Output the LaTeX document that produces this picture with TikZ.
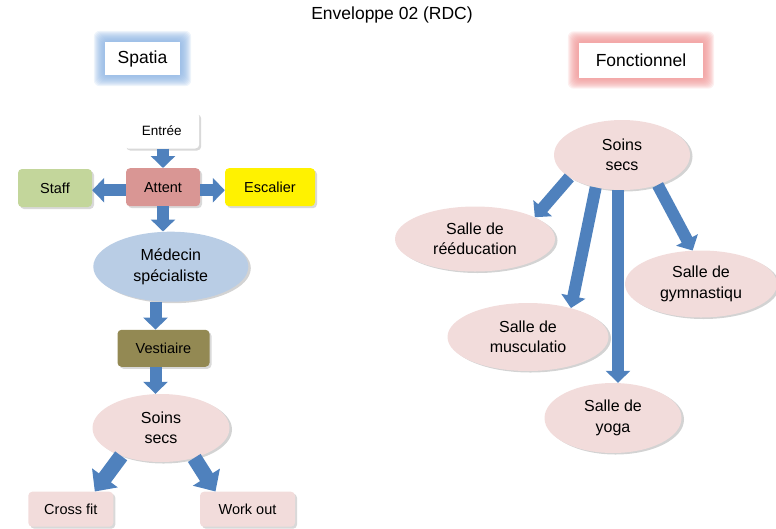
\documentclass[tikz,border=0pt]{standalone}
\usepackage{fontspec}
\setmainfont{Liberation Sans}
\usetikzlibrary{shapes.geometric, arrows.meta, shadows, backgrounds}

\definecolor{pfeil}{RGB}{79,129,189}
\definecolor{rosa}{RGB}{242,220,219}
\definecolor{hellblau}{RGB}{185,205,229}
\definecolor{altrosa}{RGB}{217,150,148}
\definecolor{gruen}{RGB}{195,214,155}
\definecolor{oliv}{RGB}{147,137,83}
\definecolor{glowblau}{RGB}{141,180,227}
\definecolor{glowrot}{RGB}{240,150,150}

\begin{document}
\begin{tikzpicture}[x=1pt, y=-1pt,
			kasten/.style={rectangle, rounded corners=4pt, inner sep=0pt, font=\fontsize{14.5}{17}\selectfont,
				drop shadow={shadow xshift=2pt, shadow yshift=-2pt, opacity=0.3}},
			oval/.style={ellipse, inner sep=0pt, fill=rosa, align=center, font=\fontsize{16}{20.5}\selectfont,
				drop shadow={shadow xshift=2.5pt, shadow yshift=-1.5pt, opacity=0.35}},
			kopf/.style={rectangle, fill=white, inner sep=0pt, font=\fontsize{17.5}{20}\selectfont},
			flow/.style={-{Triangle[width=24pt,length=12pt]}, line width=12pt, draw=pfeil},
			bigflow/.style={-{Triangle[width=31pt,length=17pt]}, line width=15pt, draw=pfeil}]
			\useasboundingbox (0,0) rectangle (776,528);
			% Titel
			\node[font=\fontsize{17.5}{20}\selectfont] (titel) at (392,15) {Enveloppe 02 (RDC)};
			\node[kopf, minimum width=75, minimum height=33] (spatia) at (142.5,58.5) {Spatia};
			\node[kopf, minimum width=124, minimum height=35] (fonct) at (641,60) {Fonctionnel};
			% Leuchtrand um die Überschriften
			\begin{scope}[on background layer]
				\foreach \g in {1,...,11} {
					\fill[glowblau, opacity=0.15, rounded corners=6pt] ([xshift=-\g pt, yshift=-\g pt]spatia.south west) rectangle ([xshift=\g pt, yshift=\g pt]spatia.north east);
					\fill[glowrot, opacity=0.15, rounded corners=6pt] ([xshift=-\g pt, yshift=-\g pt]fonct.south west) rectangle ([xshift=\g pt, yshift=\g pt]fonct.north east);
				}
			\end{scope}
			% Spatia: Knoten
			\node[kasten, fill=white, minimum width=75, minimum height=36, font=\fontsize{13.5}{16}\selectfont] (entree) at (161.7,130.5) {Entrée};
			\node[kasten, fill=altrosa, minimum width=74, minimum height=38] (attent) at (163,187.2) {Attent};
			\node[kasten, fill=gruen, minimum width=74, minimum height=38] (staff) at (55,188) {Staff};
			\node[kasten, fill=yellow, minimum width=90, minimum height=38] (escalier) at (270,187.2) {Escalier};
			\node[oval, fill=hellblau, minimum width=155, minimum height=70] (med) at (170.8,266.7) {Médecin\\spécialiste};
			\node[kasten, fill=oliv, minimum width=92, minimum height=37] (vest) at (163.5,348.3) {Vestiaire};
			\node[oval, minimum width=137, minimum height=68] (soinsL) at (161,428) {Soins\\secs};
			\node[kasten, fill=rosa, minimum width=85, minimum height=35] (crossfit) at (70.8,509.2) {Cross fit};
			\node[kasten, fill=rosa, minimum width=95, minimum height=35] (workout) at (247.5,509.2) {Work out};
			% Fonctionnel: Knoten
			\node[oval, minimum width=136, minimum height=70] (soinsR) at (622,155) {Soins\\secs};
			\node[oval, minimum width=160, minimum height=65] (reed) at (475,239) {Salle de\\rééducation};
			\node[oval, minimum width=152, minimum height=67] (gym) at (701,284) {Salle de\\gymnastiqu};
			\node[oval, minimum width=161, minimum height=68] (musc) at (528,337) {Salle de\\musculatio};
			\node[oval, minimum width=137, minimum height=70] (yoga) at (613,418) {Salle de\\yoga};
			% Pfeile links
			\draw[flow] (entree.south -| attent.north) -- (attent.north);
			\draw[flow] ([yshift=-3pt]attent.west) -- ([yshift=-3pt]attent.west -| staff.east);
			\draw[flow] ([yshift=-3pt]attent.east) -- ([yshift=-3pt]attent.east -| escalier.west);
			\draw[flow] (attent.south) -- (attent.south |- med.north);
			\draw[flow] ([xshift=-8pt]vest.north |- med.south) -- ([xshift=-8pt]vest.north);
			\draw[flow] ([xshift=-8pt]vest.south) -- ([xshift=-8pt]vest.south |- soinsL.north);
			\draw[bigflow] (soinsL.215) -- ([xshift=24pt]crossfit.north);
			\draw[bigflow] (soinsL.318) -- ([xshift=-32pt]workout.north);
			% Pfeile rechts
			\draw[flow] (soinsR.203) -- (reed.20);
			\draw[flow] (soinsR.231) -- (musc.34);
			\draw[flow] ([xshift=-4pt]soinsR.south) -- ([xshift=-4pt]soinsR.south |- yoga.north);
			\draw[flow] (soinsR.320) -- (gym.104);
		\end{tikzpicture}
\end{document}
